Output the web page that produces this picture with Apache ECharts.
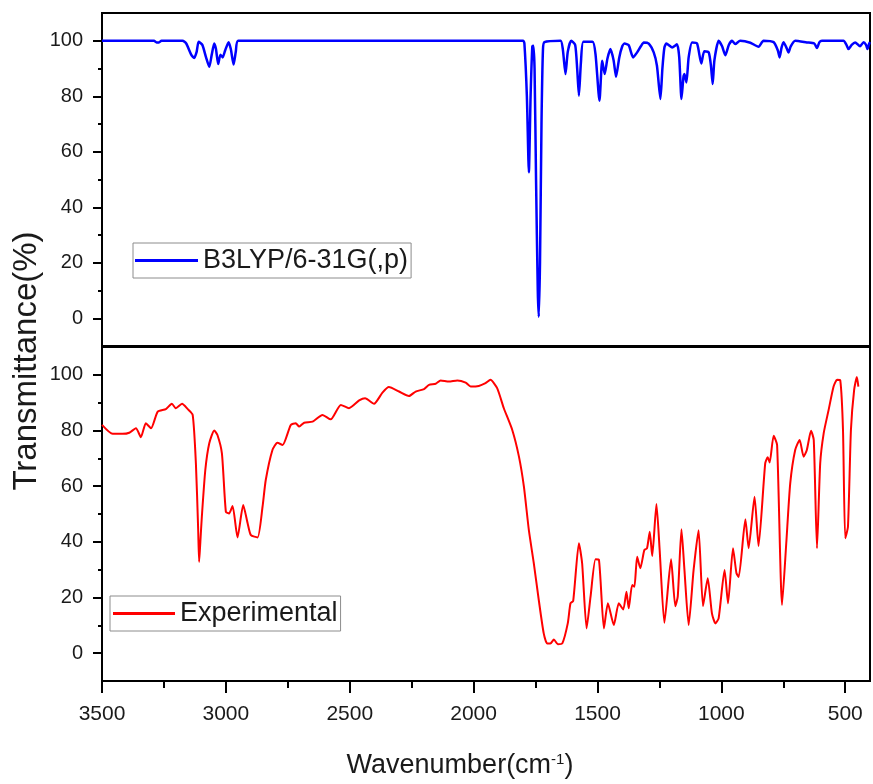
<!DOCTYPE html>
<html>
<head>
<meta charset="utf-8">
<script src="https://cdn.jsdelivr.net/npm/echarts@6/dist/echarts.min.js"></script>
<style>
  html, body { margin: 0; padding: 0; background: #fff; }
  #main { width: 873px; height: 784px; }
</style>
</head>
<body>
<div id="main"></div>
<script>
// calculated spectrum (top panel)
var calcWn = [3500, 3290, 3280, 3270, 3260, 3175, 3160, 3140, 3128, 3118, 3110, 3095, 3080, 3067, 3057, 3047, 3040, 3031, 3022, 3013, 3003, 2989, 2980, 2969, 2960, 2950,
  1800, 1795, 1785, 1777, 1770, 1763, 1759, 1754, 1748, 1741, 1737, 1732, 1726, 1720, 1714, 1649, 1640, 1629, 1620, 1606, 1590, 1582, 1575, 1567, 1557,
  1520, 1508, 1492, 1481, 1471, 1460, 1448, 1435, 1425, 1412, 1400, 1391, 1374, 1356, 1340, 1325, 1313, 1293, 1273, 1260, 1246, 1238, 1230, 1222,
  1199, 1179, 1170, 1161, 1153, 1149, 1141, 1132, 1118, 1098, 1081, 1069, 1051, 1042, 1035, 1028, 1011, 997, 984, 970, 957, 944, 924, 883, 850, 830,
  789, 772, 765, 757, 749, 735, 729, 720, 702, 655, 625, 614, 604, 594, 507, 495, 487, 474, 460, 440, 426, 416, 410, 403, 400];
var calcT = [100, 100, 99.4, 99.4, 100, 100, 99, 95, 93.8, 96, 99.6, 98.5, 94, 90.6, 95, 99, 97, 91.6, 95, 94, 96.5, 99.5, 97, 91.4, 96, 100,
  100, 99, 80, 52.6, 80, 98, 98.2, 90, 50, 10, 0.5, 20, 70, 97, 99.5, 100, 97, 88, 96, 100, 98.5, 90, 80.2, 92, 99.6,
  99.6, 95.2, 78.4, 92.8, 88, 93.5, 97, 93, 87, 94, 98, 99, 98.4, 94, 95.8, 98, 99.4, 99, 95.8, 91, 79, 90, 97.5, 99,
  97.6, 98.7, 94, 79, 87, 88, 85, 94, 99.4, 99, 91.8, 96.2, 95.8, 91, 84.4, 93, 100, 98, 94.8, 98.5, 100, 98.8, 100, 99.3, 97.8, 100,
  99.5, 96.5, 94, 97.5, 99.5, 97, 95.8, 98, 100, 99.4, 99, 97.4, 99.5, 100, 100, 98.5, 97, 98.5, 99.4, 98, 99.5, 98.5, 97, 99, 99.5];

// experimental spectrum (bottom panel)
var expWn = [3500, 3457, 3417, 3390, 3363, 3343, 3323, 3302, 3275, 3242, 3218, 3202, 3177, 3154, 3134, 3121, 3112, 3108, 3103, 3097, 3083, 3067, 3047, 3034,
  3016, 3000, 2987, 2973, 2953, 2930, 2912, 2899, 2872, 2852, 2839, 2812, 2792, 2771, 2738, 2718, 2704, 2684, 2650, 2610, 2577, 2536, 2503, 2462, 2438,
  2402, 2368, 2342, 2301, 2261, 2234, 2200, 2180, 2153, 2133, 2100, 2066, 2032, 2012, 1979, 1952, 1932, 1905, 1878, 1844, 1817, 1797, 1777, 1757, 1737,
  1717, 1703, 1690, 1676, 1660, 1642, 1620, 1609, 1598, 1575, 1562, 1544, 1528, 1508, 1494, 1474, 1458, 1434, 1414, 1396, 1383, 1374, 1360, 1351, 1340,
  1327, 1311, 1300, 1289, 1279, 1262, 1249, 1230, 1203, 1186, 1176, 1161, 1149, 1132, 1112, 1092, 1074, 1055, 1038, 1024, 1011, 987, 973, 953, 939, 930,
  903, 890, 866, 850, 823, 813, 805, 789, 775, 755, 738, 722, 702, 684, 668, 655, 638, 627, 614, 601, 587, 567, 547, 533, 520, 509, 500, 489, 477, 464, 453, 447];
var expT = [82, 78.8, 78.8, 79.2, 80.8, 77.6, 82.6, 80.8, 86.8, 87.7, 89.6, 88, 89.6, 87.7, 85.6, 68.2, 45, 32.8, 40, 49, 65.8, 75.4, 80, 78.4,
  71.8, 50.8, 50.2, 52.9, 41.6, 53.2, 46.6, 42.4, 41.6, 52.6, 62.2, 73, 75.6, 74.8, 82, 82.6, 81.4, 82.8, 83.2, 85.6, 84, 89.2, 88, 90.8, 91.6,
  89.6, 93.6, 95.6, 94, 92.4, 94, 94.9, 96.4, 96.8, 98, 97.6, 98, 97.2, 95.8, 96, 97, 98.2, 95.2, 88, 80.2, 70.6, 59.8, 44.2, 32.3, 19.1,
  7.1, 3.5, 3.5, 4.9, 3.2, 3.5, 10.7, 17.9, 18.8, 39.5, 32.3, 8.9, 20.3, 33.7, 33.5, 8.9, 17.9, 10.1, 17.9, 15.7, 22.1, 16.1, 24.5, 23.9, 34.6,
  30.5, 37, 37.7, 43.6, 34.9, 53.6, 37, 10.9, 33.7, 16.9, 20.3, 44.5, 29.9, 10.1, 29.9, 44.2, 16.9, 26.9, 14.3, 10.7, 12.5, 29.9, 17.9, 37.7, 28.7, 27.4,
  48.1, 37.7, 56.2, 38.5, 68.2, 70.4, 68.5, 78.1, 74.8, 17.3, 39.5, 61, 73, 76.6, 70.6, 73, 79.9, 76.6, 37.7, 68.2, 79, 87.4, 95.8, 98.2, 98, 80.2, 41.3, 45.4, 80.2, 94.6, 99.2, 95.8];

var xMajor = [3500, 3000, 2500, 2000, 1500, 1000, 500];
var xMinor = [3250, 2750, 2250, 1750, 1250, 750];
var yMajor = [0, 20, 40, 60, 80, 100];
var yMinor = [10, 30, 50, 70, 90];

var sans = '"Liberation Sans", Arial, sans-serif';

function zip(a, b) {
  return a.map(function (v, i) { return [v, b[i]]; });
}

function xAx(grid, values, len, labels) {
  return {
    type: 'value', gridIndex: grid, inverse: true, min: 400, max: 3500, position: 'bottom', offset: 0,
    axisLine: { show: true, onZero: false, lineStyle: { color: '#000', width: 2 } },
    axisTick: { show: values.length > 0, customValues: values, length: len, lineStyle: { color: '#000', width: 2 } },
    axisLabel: {
      show: labels, customValues: values, margin: 23, color: '#1a1a1a', fontSize: 21, fontFamily: sans,
      formatter: function (v) { return String(v); }
    },
    splitLine: { show: false }
  };
}

function yAx(grid, values, len, labels) {
  return {
    type: 'value', gridIndex: grid, min: -10, max: 110, position: 'left', offset: 0,
    axisLine: { show: true, onZero: false, lineStyle: { color: '#000', width: 2 } },
    axisTick: { show: true, customValues: values, length: len, lineStyle: { color: '#000', width: 2 } },
    axisLabel: { show: labels, customValues: values, margin: 19, color: '#1a1a1a', fontSize: 20, fontFamily: sans },
    splitLine: { show: false }
  };
}

var chart = echarts.init(document.getElementById('main'));
chart.setOption({
  animation: false,
  backgroundColor: '#fff',
  grid: [
    { left: 102, right: 3, top: 13, height: 333, show: true, borderColor: '#000', borderWidth: 2 },
    { left: 102, right: 3, top: 347, height: 334, show: true, borderColor: '#000', borderWidth: 2 }
  ],
  xAxis: [
    xAx(0, [], 0, false),
    xAx(1, xMajor, 12, true),
    xAx(1, xMinor, 7, false)
  ],
  yAxis: [
    yAx(0, yMajor, 9, true),
    yAx(0, yMinor, 4, false),
    yAx(1, yMajor, 9, true),
    yAx(1, yMinor, 4, false)
  ],
  legend: [
    {
      data: ['B3LYP/6-31G(,p)'], left: 133, top: 243, padding: [4, 3, 4, 2],
      itemWidth: 63, itemHeight: 3, icon: 'rect', selectedMode: false,
      borderColor: '#8c8c8c', borderWidth: 1,
      textStyle: { fontSize: 27, fontFamily: sans, color: '#1a1a1a' }
    },
    {
      data: ['Experimental'], left: 110, top: 596, padding: [4, 3, 4, 3],
      itemWidth: 62, itemHeight: 3, icon: 'rect', selectedMode: false,
      borderColor: '#8c8c8c', borderWidth: 1,
      textStyle: { fontSize: 27, fontFamily: sans, color: '#1a1a1a' }
    }
  ],
  graphic: [
    {
      type: 'text', x: 27, y: 361, rotation: Math.PI / 2,
      style: { text: 'Transmittance(%)', font: '33px ' + sans, fill: '#1a1a1a', align: 'center', verticalAlign: 'middle' }
    },
    {
      type: 'text', x: 460, y: 766,
      style: {
        text: '{a|Wavenumber(cm}{s|-1}{a|)}', align: 'center', verticalAlign: 'middle', fill: '#1a1a1a',
        rich: {
          a: { fontSize: 27, fontFamily: sans, fill: '#1a1a1a', verticalAlign: 'bottom' },
          s: { fontSize: 15, fontFamily: sans, fill: '#1a1a1a', verticalAlign: 'top' }
        }
      }
    }
  ],
  series: [
    {
      name: 'B3LYP/6-31G(,p)', type: 'line', xAxisIndex: 0, yAxisIndex: 0,
      data: zip(calcWn, calcT), showSymbol: false, symbol: 'none', smooth: 0.2,
      lineStyle: { color: '#0000ff', width: 2.5 }, itemStyle: { color: '#0000ff' }
    },
    {
      name: 'Experimental', type: 'line', xAxisIndex: 1, yAxisIndex: 2,
      data: zip(expWn, expT), showSymbol: false, symbol: 'none', smooth: 0.2,
      lineStyle: { color: '#ff0000', width: 2 }, itemStyle: { color: '#ff0000' }
    }
  ]
});
</script>
</body>
</html>
